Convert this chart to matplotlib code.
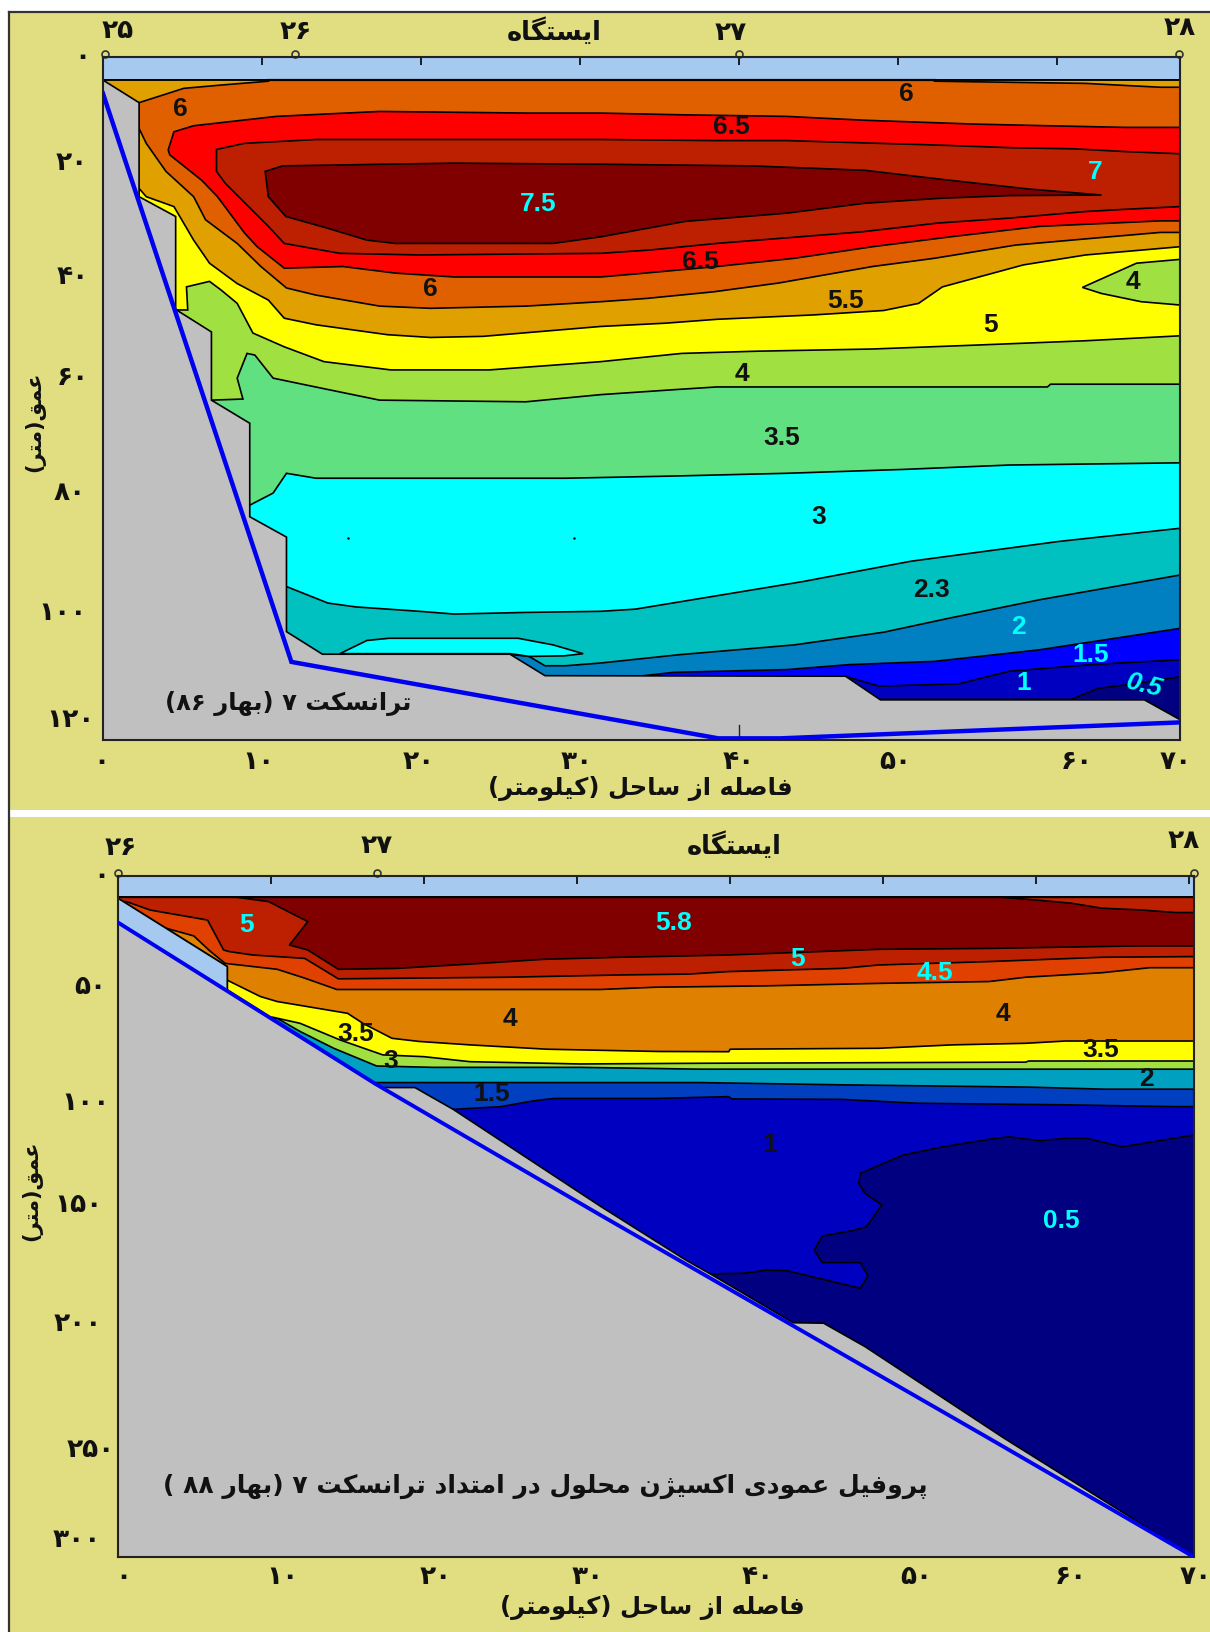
import re
import matplotlib
matplotlib.use("Agg")
import matplotlib.pyplot as plt
from matplotlib.patches import Rectangle

W, H = 1210, 1632
KHAKI = "#e0de80"
SEA = "#a6c9ef"
GRAY = "#c0c0c0"
CYAN = "#00ffff"

# letter: isolated, final, initial, medial
FORMS = {
    "ا": "\uFE8D\uFE8E", "د": "\uFEA9\uFEAA", "ر": "\uFEAD\uFEAE", "ز": "\uFEAF\uFEB0",
    "ژ": "\uFB8A\uFB8B", "و": "\uFEED\uFEEE",
    "ب": "\uFE8F\uFE90\uFE91\uFE92", "پ": "\uFB56\uFB57\uFB58\uFB59",
    "ت": "\uFE95\uFE96\uFE97\uFE98", "ح": "\uFEA1\uFEA2\uFEA3\uFEA4",
    "س": "\uFEB1\uFEB2\uFEB3\uFEB4", "ص": "\uFEB9\uFEBA\uFEBB\uFEBC",
    "ع": "\uFEC9\uFECA\uFECB\uFECC", "ف": "\uFED1\uFED2\uFED3\uFED4",
    "ق": "\uFED5\uFED6\uFED7\uFED8", "ک": "\uFB8E\uFB8F\uFB90\uFB91",
    "گ": "\uFB92\uFB93\uFB94\uFB95", "ل": "\uFEDD\uFEDE\uFEDF\uFEE0",
    "م": "\uFEE1\uFEE2\uFEE3\uFEE4", "ن": "\uFEE5\uFEE6\uFEE7\uFEE8",
    "ه": "\uFEE9\uFEEA\uFEEB\uFEEC", "ی": "\uFBFC\uFBFD\uFBFE\uFBFF",
}

# ---- upper panel, x in km, depth in m
P1_XMAX = 67.74
P1_YMAX = 124.2
P1_SURF = 4.2
p1_x_ticks = [10, 20, 30, 40, 50, 60]
p1_x_labels = ["۰", "۱۰", "۲۰", "۳۰", "۴۰", "۵۰", "۶۰", "۷۰"]
p1_x_label_px = [101, 258, 419, 577, 739, 895, 1077, 1176]
p1_y_labels = ["۰", "۲۰", "۴۰", "۶۰", "۸۰", "۱۰۰", "۱۲۰"]
p1_y_label_py = [57, 163, 277, 378, 493, 613, 720]
p1_y_label_px = [82, 72, 73, 73, 70, 63, 71]
p1_stations = ["۲۵", "۲۶", "۲۷", "۲۸"]
p1_station_km = [0.1, 12.1, 40.0, 67.7]
p1_station_px = [118, 296, 731, 1180]
p1_station_py = [31, 32, 33, 28]

p1_blue = [(0, 6.65), (11.85, 110), (38.7, 123.9), (42.6, 123.9), (67.74, 121)]
p1_ground = [(0, 4.2), (2.27, 8.3), (2.27, 25.4), (4.57, 29), (4.57, 45.9), (6.82, 50), (6.82, 62.4),
             (9.23, 66.6), (9.23, 83.6), (11.54, 87.3), (11.54, 104.5), (13.8, 108.6), (25.6, 108.6),
             (27.8, 112.5), (46.7, 112.6), (48.9, 116.9), (65.5, 116.9), (67.74, 120.5)]

c_05 = [(60.9, 116.8), (62.6, 114.8), (64.3, 114.2), (67.74, 112.7)]
c_1 = [(46.9, 112.8), (48.8, 114.4), (53.8, 114), (57, 111.7), (62.1, 110.5), (67.74, 109.6)]
c_15 = [(33.7, 112.6), (35.9, 111.9), (43, 111.4), (46.9, 110.5), (52.3, 109.9), (58.9, 107.8), (67.74, 103.9)]
c_2 = [(25.8, 108.7), (26.8, 109), (27.8, 110.7), (29.1, 110.7), (31.3, 110.2), (36.2, 108.7), (43.5, 106.9),
       (49.1, 104.6), (53.3, 102), (58.9, 98.7), (67.74, 94.2)]
c_23 = [(11.54, 96.3), (14.15, 99.3), (15.9, 100), (19.9, 100.8), (22.1, 101.3), (26.6, 101), (31.3, 100.8),
        (33.5, 100.4), (44, 95.4), (50.8, 91.7), (60.1, 88.1), (67.74, 85.7)]
c_3 = [(9.23, 81.5), (10.7, 79.3), (11.54, 75.7), (13.4, 76.6), (29.1, 76.6), (35.9, 76.2), (43, 75.7),
       (50.3, 75), (57, 74.2), (67.74, 73.8)]
c_35 = [(6.82, 62.4), (8.8, 62.2), (8.44, 58.4), (9.06, 53.9), (9.55, 54.2), (10.7, 58.4), (13.7, 60.2),
        (17.4, 62.4), (26.6, 62.7), (31.3, 61.4), (35.9, 60.5), (38.6, 60), (59.4, 60), (59.6, 59.5), (67.74, 59.5)]
c_4 = [(4.57, 46), (5.33, 46), (5.25, 41.8), (6.7, 40.8), (7.44, 42.4), (8.44, 44.8), (9.43, 50.2), (11.4, 52.7),
       (13.9, 55.4), (18.1, 56.9), (24.3, 56.9), (31.3, 55.4), (36.4, 53.9), (41.1, 53.5), (48.4, 53.1),
       (54.8, 52.4), (61.8, 51.6), (67.74, 50.7)]
c_5 = [(2.27, 23.9), (2.72, 25.4), (4.46, 27.2), (4.83, 29), (5.7, 33.3), (6.7, 37.5), (8.44, 41.2), (10.4, 44.2),
       (11.4, 47.5), (13.4, 48.7), (17.9, 50.5), (20.6, 51), (23.9, 50.8), (31.3, 49), (35.4, 48.4), (38.6, 47.7),
       (44.7, 46.9), (49.1, 46.1), (51.3, 44.8), (52.8, 41.8), (57.9, 37.8), (61.8, 36), (67.74, 34.5)]
c_55 = [(10.4, 4.2), (10.4, 4.4), (7.44, 5.1), (5.08, 5.7), (2.27, 8.3), (2.27, 13), (2.72, 15.7), (3.96, 20.8),
        (5.7, 25.4), (6.45, 29.6), (8.44, 33.9), (9.93, 38.1), (11.54, 42), (13.4, 43.3), (17.4, 45.3), (20.6, 45.7),
        (26.6, 45.3), (31.3, 44.5), (34.2, 43.9), (38.4, 42.7), (42.5, 41.1), (48.4, 38.1), (52.3, 36.6), (57.4, 34.2),
        (62.1, 33), (66.5, 31.9), (67.74, 31.9), (67.74, 5.5), (66.5, 5.5), (61.8, 4.8), (52.3, 4.4), (52.3, 4.2)]
c_6 = [(4.46, 13.6), (4.1, 16.9), (4.2, 17.8), (6.2, 22.4), (7.2, 25.4), (8.9, 32), (9.7, 34.5), (11.4, 38.4),
       (15.1, 38.1), (18.4, 39.3), (22.1, 40), (26.6, 40), (31.3, 40), (33.7, 39.4), (38.6, 38.1), (43.5, 36.6),
       (48.4, 34.5), (53.3, 32.7), (58.9, 30.8), (66.5, 29.8), (67.74, 29.8), (67.74, 12.8), (64.3, 12.8), (59.4, 12.5),
       (54.8, 12.2), (47.9, 11.5), (43, 10.8), (36.2, 10.5), (31.3, 10.2), (26.8, 10.2), (17.4, 9.9), (10.9, 10.8), (5.7, 12.5)]
c_65 = [(7.14, 16.8), (7.14, 20.8), (7.7, 23), (10.4, 30.8), (11.4, 33.9), (14.9, 35.7), (19.9, 36), (31.3, 35.7),
        (34.4, 35.1), (38.6, 33.9), (47.7, 31.8), (52.5, 30.2), (57, 29.3), (61.8, 28.1), (64.3, 27.7), (67.74, 27.2),
        (67.74, 17.6), (64.3, 17.2), (61.1, 16.7), (57.2, 16.5), (52.3, 16), (43, 15.2), (38.4, 15.2), (31.3, 15),
        (13.4, 15), (8.9, 15.7)]
c_7 = [(10.2, 20.8), (11.3, 19.8), (22.1, 19.3), (31.3, 19.5), (40.8, 19.8), (47.9, 20.6), (52.6, 22.2), (58.2, 24),
       (62.8, 25.1), (57, 25.2), (52.6, 25.7), (47.9, 26.6), (43, 28.4), (36.6, 29.9), (31.3, 32.7), (28.3, 33.9),
       (18.4, 33.9), (16.6, 33.3), (14.2, 31.2), (11.5, 29), (10.4, 25.4)]
blob_4 = [(61.6, 41.9), (65, 37.5), (67.74, 36.8), (67.74, 45.1), (65.3, 44.5), (62.8, 43)]
lens_3 = [(14.9, 108.5), (16.6, 106.1), (18, 105.7), (26.1, 105.7), (28.3, 106.9), (30.2, 108.5), (29, 108.9),
          (26.8, 109), (25.6, 108.5)]

p1_labels = ["6", "6.5", "6", "7", "7.5", "6.5", "6", "5.5", "5", "4", "4", "3.5", "3", "2.3", "2", "1.5", "1"]
p1_label_km = [4.84, 39.5, 50.5, 62.4, 27.4, 37.6, 20.6, 46.7, 55.8, 64.8, 40.2, 42.7, 45, 52.1, 57.6, 62.1, 57.9]
p1_label_m = [9.5, 12.7, 6.8, 21, 26.7, 37.3, 42.2, 44.3, 48.8, 41, 57.7, 69.2, 83.6, 97, 103.6, 108.7, 113.8]
p1_label_cyan = [0, 0, 0, 1, 1, 0, 0, 0, 0, 0, 0, 0, 0, 0, 1, 1, 1]

# ---- lower panel
P2_XMAX = 70.3
P2_YMAX = 300
P2_SURF = 9.4
p2_x_ticks = [10, 20, 30, 40, 50, 60, 70]
p2_x_label_px = [123, 282, 436, 588, 758, 916, 1071, 1196]
p2_y_labels = ["۰", "۵۰", "۱۰۰", "۱۵۰", "۲۰۰", "۲۵۰", "۳۰۰"]
p2_y_label_py = [876, 987, 1103, 1205, 1324, 1450, 1540]
p2_y_label_px = [101, 90, 86, 78, 78, 91, 77]
p2_stations = ["۲۶", "۲۷", "۲۸"]
p2_station_km = [0, 16.9, 70.3]
p2_station_px = [121, 377, 1184]
p2_station_py = [848, 846, 841]

p2_blue = [(0, 20.5), (16.8, 91.5), (22, 112), (31.5, 149.3), (44.2, 198.5), (56.9, 247.7), (70.3, 300)]
p2_wedge = [(0, 9.8), (7.14, 39.9), (7.14, 50.6), (0, 20.5)]
p2_ground = [(0, 9.8), (7.14, 39.9), (7.14, 50.2), (16.8, 91.3), (17.2, 93.2), (19.4, 93.2), (21.9, 102.8), (26.9, 125),
             (31.5, 145.4), (37.1, 169.2), (38.7, 175.3), (44.1, 196.8), (46.1, 197), (48.8, 207.3), (57.9, 247.7), (70.3, 300)]

d_05 = [(38.7, 175.3), (40.9, 175), (42.4, 173.6), (43.7, 173.9), (48.5, 181.6), (49, 176.2), (48.5, 170.3), (46, 170.3),
        (45.5, 164.8), (46, 158.6), (48, 156.2), (48.9, 154.5), (49.9, 144.9), (48.8, 139.8), (48.4, 135.4), (48.5, 131),
        (51.3, 122.9), (53.9, 119.3), (56.9, 116), (58.2, 114.9), (60.2, 116.6), (61.9, 115.6), (63.3, 115.6), (65.6, 119.3), (70.3, 114.1)]
d_1 = [(21.9, 102.8), (25, 101.6), (27.2, 99), (28.5, 98), (35, 98), (39.9, 97.2), (40.1, 98.2), (47.3, 98.4),
       (52.2, 100.1), (61.9, 100.8), (69.1, 101.6), (70.3, 101.6)]
d_15 = [(16.8, 91), (38, 91), (47.3, 92), (59.5, 93), (64.4, 93.9), (70.3, 93.9)]
d_2 = [(10.4, 62.7), (11.9, 68.5), (14.1, 75.9), (16.9, 83.7), (20.6, 84.3), (30.2, 84.3), (38, 85.1), (70.3, 85.1)]
d_3 = [(10.1, 62.2), (11.9, 64.9), (14.5, 72.2), (17.3, 78.8), (20, 79.6), (23, 81.8), (30.2, 82.8), (38, 82.5),
       (59.3, 82), (59.5, 81.5), (70.3, 81.5)]
d_35 = [(7.2, 46.1), (9.3, 53.1), (10.4, 55.3), (15, 60.5), (16, 64.9), (17.9, 71.5), (19.7, 72.9), (23, 74.4), (28, 76.3),
        (35.3, 77.3), (39.9, 77.4), (40, 76.3), (49.7, 75.9), (54.5, 74.4), (59.3, 73.7), (61.9, 72.7), (70.3, 72.7)]
d_4 = [(3.14, 23), (4.95, 26.4), (6, 33), (7, 38.5), (10.4, 41.1), (12.2, 45), (14.3, 50), (31.5, 50), (35.1, 49),
       (42.3, 48.4), (49.7, 47.3), (56.9, 46.5), (59.3, 44.6), (64.3, 42.6), (67.4, 40.4), (70.3, 40.4)]
d_45 = [(0.56, 11.3), (2.1, 15), (5.85, 19.4), (6.9, 32.6), (7.27, 33.3), (8.8, 34.8), (12.2, 36.3), (14.4, 45.3),
        (25.4, 44.6), (32.8, 43.6), (37.3, 43.2), (39.9, 42.1), (47.3, 40.7), (49.7, 39.2), (56.9, 37.7), (64.3, 35.8), (70.3, 35.5)]
d_5 = [(7.8, 9.4), (9.85, 11.3), (12.4, 20.1), (11.2, 30.4), (12.4, 32.6), (14.4, 41.1), (18.2, 40.7), (23, 38.8),
       (27.8, 36.7), (32.8, 35.8), (39.9, 34.8), (49.7, 32.3), (56.9, 31.9), (66.6, 30.8), (70.3, 30.8), (70.3, 16.1),
       (69.1, 16.1), (66.7, 14.9), (64.3, 14.2), (62.3, 12), (59.5, 10.3), (57.6, 9.4)]

p2_labels = ["5", "5.8", "5", "4.5", "4", "4", "3.5", "3.5", "3", "2", "1.5", "1", "0.5"]
p2_label_km = [8.4, 36.3, 44.4, 53.4, 25.6, 57.8, 15.5, 64.2, 17.8, 67.2, 24.4, 42.6, 61.6]
p2_label_m = [21.6, 20.6, 36.7, 42.7, 62.8, 61, 69.7, 76.6, 81.7, 89.4, 95.9, 118.3, 151.8]
p2_label_cyan = [1, 1, 1, 1, 0, 0, 0, 0, 0, 0, 0, 0, 1]


def shape(text):
    """join the letters by hand and flip to visual order, matplotlib has no bidi"""
    out = []
    for i, ch in enumerate(text):
        if ch not in FORMS:
            out.append(ch)
            continue
        prev = text[i - 1] if i > 0 else ""
        nxt = text[i + 1] if i + 1 < len(text) else ""
        join_prev = prev in FORMS and len(FORMS[prev]) == 4
        join_next = nxt in FORMS and len(FORMS[ch]) == 4
        if join_prev and join_next:
            out.append(FORMS[ch][3])
        elif join_prev:
            out.append(FORMS[ch][1])
        elif join_next:
            out.append(FORMS[ch][2])
        else:
            out.append(FORMS[ch][0])
    flipped = "".join(out)[::-1].translate(str.maketrans("()", ")("))
    # digit runs stay left to right
    return re.sub("[۰-۹]+", lambda m: m.group(0)[::-1], flipped)


def ptext(fig, x, y, s, size, rotation=0):
    fig.text(x / W, 1 - y / H, shape(s), fontsize=size, family="DejaVu Sans", weight="bold",
             ha="center", va="center", rotation=rotation, color="#111111")


def above(ax, line, color, top):
    # area between the surface and one contour
    pts = list(line) + [(ax.get_xlim()[1], top), (0, top), (0, line[0][1])]
    ax.fill(*zip(*pts), facecolor=color, edgecolor="k", lw=1.2)


def closed(ax, pts, color):
    ax.fill(*zip(*pts), facecolor=color, edgecolor="k", lw=1.2)


def make_axes(fig, left, top, right, bottom, xmax, ymax, xticks):
    ax = fig.add_axes([left / W, 1 - bottom / H, (right - left) / W, (bottom - top) / H], facecolor=SEA)
    ax.set_xlim(0, xmax)
    ax.set_ylim(ymax, 0)
    ax.set_xticks(xticks)
    ax.set_yticks([])
    ax.tick_params(axis="x", top=True, bottom=False, labelbottom=False, direction="in", length=6, width=1.2)
    for s in ax.spines.values():
        s.set_linewidth(1.5)
        s.set_color("#222222")
    return ax


def numbers(ax, labels, kms, ms, cyans):
    for s, x, y, c in zip(labels, kms, ms, cyans):
        ax.text(x, y, s, fontsize=19, family="Liberation Sans", weight="bold", ha="center", va="center",
                color=CYAN if c else "#111111", zorder=6)


fig = plt.figure(figsize=(W / 100, H / 100), dpi=100, facecolor="white")
for (x0, y0, x1, y1) in [(9, 12, W, 810), (9, 817, W, H)]:
    fig.add_artist(Rectangle((x0 / W, 1 - y1 / H), (x1 - x0) / W, (y1 - y0) / H, transform=fig.transFigure,
                             facecolor=KHAKI, edgecolor="none", zorder=-2))
fig.add_artist(plt.Line2D([9 / W, 9 / W], [0, 1 - 12 / H], color="#333333", lw=1.6, zorder=-1))
fig.add_artist(plt.Line2D([9 / W, 1], [1 - 12 / H, 1 - 12 / H], color="#333333", lw=1.6, zorder=-1))

# upper panel
ax1 = make_axes(fig, 103, 57, 1180, 740, P1_XMAX, P1_YMAX, p1_x_ticks)
bands1 = [("#000080", [(0, P1_YMAX), (P1_XMAX, P1_YMAX)]), ("#0000c0", c_05), ("#0000ff", c_1), ("#0080c0", c_15),
          ("#00c0c0", c_2), ("#00ffff", c_23), ("#60e080", c_3), ("#a0e040", c_35), ("#ffff00", c_4), ("#e0a000", c_5)]
for color, line in bands1:
    above(ax1, line, color, P1_SURF)
closed(ax1, lens_3, "#00ffff")
closed(ax1, blob_4, "#a0e040")
closed(ax1, c_55, "#e06000")
closed(ax1, c_6, "#ff0000")
closed(ax1, c_65, "#bc2000")
closed(ax1, c_7, "#800000")
ax1.plot([10.4, 52.3], [P1_SURF, P1_SURF], color="k", lw=1.6)
closed(ax1, p1_ground + [(P1_XMAX, P1_YMAX), (0, P1_YMAX)], GRAY)
ax1.plot(*zip(*p1_blue), color="#0000f0", lw=3.2, solid_joinstyle="miter", zorder=4)
ax1.plot([15.4, 29.6], [87.5, 87.5], ls="none", marker=".", ms=1.5, color="k")
ax1.plot([40, 40], [121.5, P1_YMAX], color="#222222", lw=1)
numbers(ax1, p1_labels, p1_label_km, p1_label_m, p1_label_cyan)
ax1.text(65.5, 114.4, "0.5", fontsize=19, family="Liberation Sans", weight="bold", style="italic", rotation=-14,
         color=CYAN, ha="center", va="center", zorder=6)
ax1.text(11.65, 117.6, shape("ترانسکت ۷ (بهار ۸۶)"), fontsize=17.5, family="DejaVu Sans", weight="bold",
         ha="center", va="center", color="#111111", zorder=6)
ax1.plot(p1_station_km, [-0.6] * 4, ls="none", marker="o", ms=5, mfc=KHAKI, mec="#333333", mew=1.2, clip_on=False)

# lower panel
ax2 = make_axes(fig, 118, 876, 1194, 1557, P2_XMAX, P2_YMAX, p2_x_ticks)
bands2 = [("#000080", [(0, P2_YMAX), (P2_XMAX, P2_YMAX)]), ("#0000c0", d_05), ("#0040c0", d_1), ("#00a0c0", d_15),
          ("#a0e040", d_2), ("#ffff00", d_3), ("#e08000", d_35), ("#e04000", d_4), ("#bc2000", d_45)]
for color, line in bands2:
    above(ax2, line, color, P2_SURF)
closed(ax2, d_5, "#800000")
closed(ax2, p2_ground + [(0, P2_YMAX)], GRAY)
closed(ax2, p2_wedge, SEA)
ax2.plot(*zip(*p2_blue), color="#0000f0", lw=2.8, zorder=4)
numbers(ax2, p2_labels, p2_label_km, p2_label_m, p2_label_cyan)
ax2.text(27.9, 268.8, shape("پروفیل عمودی اکسیژن محلول در امتداد ترانسکت ۷ (بهار ۸۸ )"), fontsize=18,
         family="DejaVu Sans", weight="bold", ha="center", va="center", color="#111111", zorder=6)
ax2.plot(p2_station_km, [-1.5] * 3, ls="none", marker="o", ms=5, mfc=KHAKI, mec="#333333", mew=1.2, clip_on=False)

# persian tick labels and titles
for s, x in zip(p1_x_labels, p1_x_label_px):
    ptext(fig, x, 762, s, 19)
for s, x, y in zip(p1_y_labels, p1_y_label_px, p1_y_label_py):
    ptext(fig, x, y, s, 19)
for s, x, y in zip(p1_stations, p1_station_px, p1_station_py):
    ptext(fig, x, y, s, 19)
for s, x in zip(p1_x_labels, p2_x_label_px):
    ptext(fig, x, 1577, s, 19)
for s, x, y in zip(p2_y_labels, p2_y_label_px, p2_y_label_py):
    ptext(fig, x, y, s, 19)
for s, x, y in zip(p2_stations, p2_station_px, p2_station_py):
    ptext(fig, x, y, s, 19)

ptext(fig, 554, 32, "ایستگاه", 18.5)
ptext(fig, 734, 846, "ایستگاه", 18.5)
ptext(fig, 640, 789, "فاصله از ساحل (کیلومتر)", 17.5)
ptext(fig, 652, 1608, "فاصله از ساحل (کیلومتر)", 17.5)
ptext(fig, 35, 422, "عمق(متر)", 15, rotation=90)
ptext(fig, 32, 1191, "عمق(متر)", 15, rotation=90)

fig.savefig("out.png", dpi=100, facecolor=fig.get_facecolor())
